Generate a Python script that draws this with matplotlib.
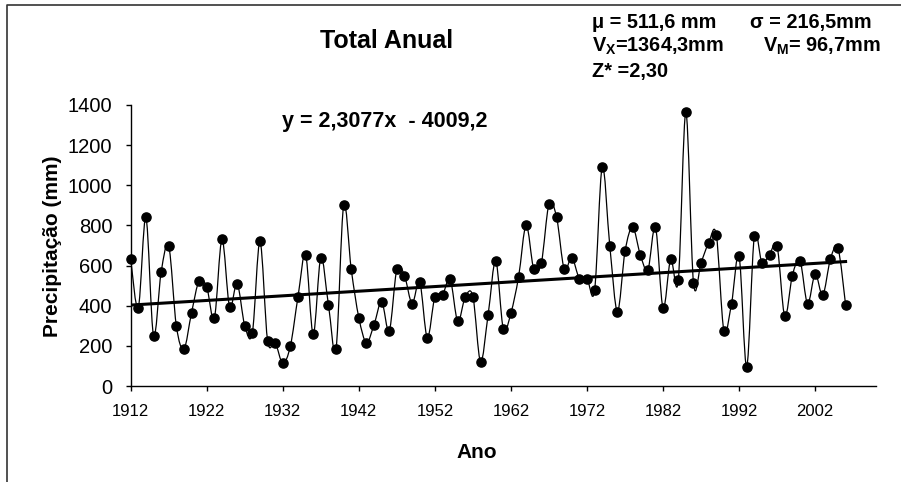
import numpy as np
import matplotlib
matplotlib.use("Agg")
import matplotlib.pyplot as plt
from matplotlib.path import Path
from matplotlib.patches import PathPatch
from matplotlib.lines import Line2D

plt.rcParams['font.family'] = ['Liberation Sans', 'DejaVu Sans']
plt.rcParams['mathtext.fontset'] = 'custom'
plt.rcParams['mathtext.rm'] = 'Liberation Sans'
plt.rcParams['mathtext.bf'] = 'Liberation Sans:bold'

# ---- data ----
years = list(range(1912, 2007))
precip = [631, 390, 840, 251, 566, 698, 300, 185, 365, 525,
          493, 338, 730, 395, 510, 300, 266, 720, 226, 216,
          113, 200, 445, 655, 258, 640, 405, 185, 900, 581,
          340, 216, 306, 420, 275, 583, 550, 411, 518, 241,
          445, 453, 533, 323, 445, 445, 121, 356, 623, 283,
          365, 543, 801, 583, 615, 906, 841, 583, 640, 535,
          535, 478, 1093, 696, 371, 671, 791, 655, 578, 791,
          388, 631, 526, 1364.3, 515, 615, 713, 753, 275, 411,
          646, 96.7, 745, 615, 655, 696, 348, 550, 625, 411,
          558, 453, 631, 688, 405]
trend_slope = 2.3077
trend_intercept = -4009.2
xtick_years = list(range(1912, 2003, 10))
yticks = list(range(0, 1401, 200))

title = "Total Anual"
xlabel = "Ano"
ylabel = "Precipitação (mm)"
equation = "y = 2,3077x  - 4009,2"

W, H = 901, 482
fig = plt.figure(figsize=(W / 100, H / 100), dpi=100)
ax = fig.add_axes([130.7 / W, 1 - 386 / H, (876 - 130.7) / W, (386 - 105) / H])

x = np.array(years, dtype=float)
y = np.array(precip, dtype=float)

# smoothed line (Excel-like cubic Bezier through the points)
verts = [(x[0], y[0])]
codes = [Path.MOVETO]
n = len(x)
for i in range(n - 1):
    p0 = np.array([x[max(i - 1, 0)], y[max(i - 1, 0)]])
    p1 = np.array([x[i], y[i]])
    p2 = np.array([x[i + 1], y[i + 1]])
    p3 = np.array([x[min(i + 2, n - 1)], y[min(i + 2, n - 1)]])
    c1 = p1 + (p2 - p0) / 6.0
    c2 = p2 - (p3 - p1) / 6.0
    verts += [tuple(c1), tuple(c2), tuple(p2)]
    codes += [Path.CURVE4, Path.CURVE4, Path.CURVE4]
ax.add_patch(PathPatch(Path(verts, codes), fill=False, edgecolor='black', lw=0.9, zorder=2))
ax.plot(x, y, linestyle='none', marker='o', ms=6.6, color='black', zorder=3, clip_on=False)

# trend line
tx = np.array([years[0], years[-1]], dtype=float)
ax.plot(tx, trend_slope * tx + trend_intercept, color='black', lw=2.2, zorder=4)

ax.set_xlim(1912, 2010)
ax.set_ylim(0, 1400)
ax.set_xticks(xtick_years)
ax.set_xticklabels([str(v) for v in xtick_years], fontsize=12)
ax.set_yticks(yticks)
ax.set_yticklabels([str(v) for v in yticks], fontsize=14.5)
ax.tick_params(axis='x', direction='out', length=3.8, width=1, pad=9.5)
ax.tick_params(axis='y', direction='out', length=3.8, width=1, pad=9.5)
for s in ['top', 'right']:
    ax.spines[s].set_visible(False)
for s in ['left', 'bottom']:
    ax.spines[s].set_linewidth(1)

# texts
fig.text(386.7 / W, 1 - 48.3 / H, title, ha='center', va='baseline', fontsize=18, fontweight='bold')
fig.text(476.7 / W, 1 - 458.3 / H, xlabel, ha='center', va='baseline', fontsize=15, fontweight='bold')
fig.text(52.7 / W, 1 - 246 / H, ylabel, ha='center', va='center', rotation=90, fontsize=15, fontweight='bold')
fig.text(281.7 / W, 1 - 126.7 / H, equation, ha='left', va='baseline', fontsize=15.5, fontweight='bold')

st = 14.3
fig.text(591.7 / W, 1 - 28.3 / H, "μ = 511,6 mm", ha='left', va='baseline', fontsize=st, fontweight='bold')
fig.text(750 / W, 1 - 28.3 / H, "σ = 216,5mm", ha='left', va='baseline', fontsize=st, fontweight='bold')
fig.text(591.7 / W, 1 - 52 / H, r"V$_\mathbf{X}$=1364,3mm", ha='left', va='baseline', fontsize=st, fontweight='bold')
fig.text(763.3 / W, 1 - 52 / H, r"V$_\mathbf{M}$= 96,7mm", ha='left', va='baseline', fontsize=st, fontweight='bold')
fig.text(591.7 / W, 1 - 77.3 / H, "Z* =2,30", ha='left', va='baseline', fontsize=st, fontweight='bold')

# outer border (left and top)
bx, by = 7 / W, 1 - 5 / H
fig.add_artist(Line2D([bx, bx, 1.0], [0.0, by, by], transform=fig.transFigure, color='#333333', lw=1.2))

fig.savefig("out.png", dpi=100)
